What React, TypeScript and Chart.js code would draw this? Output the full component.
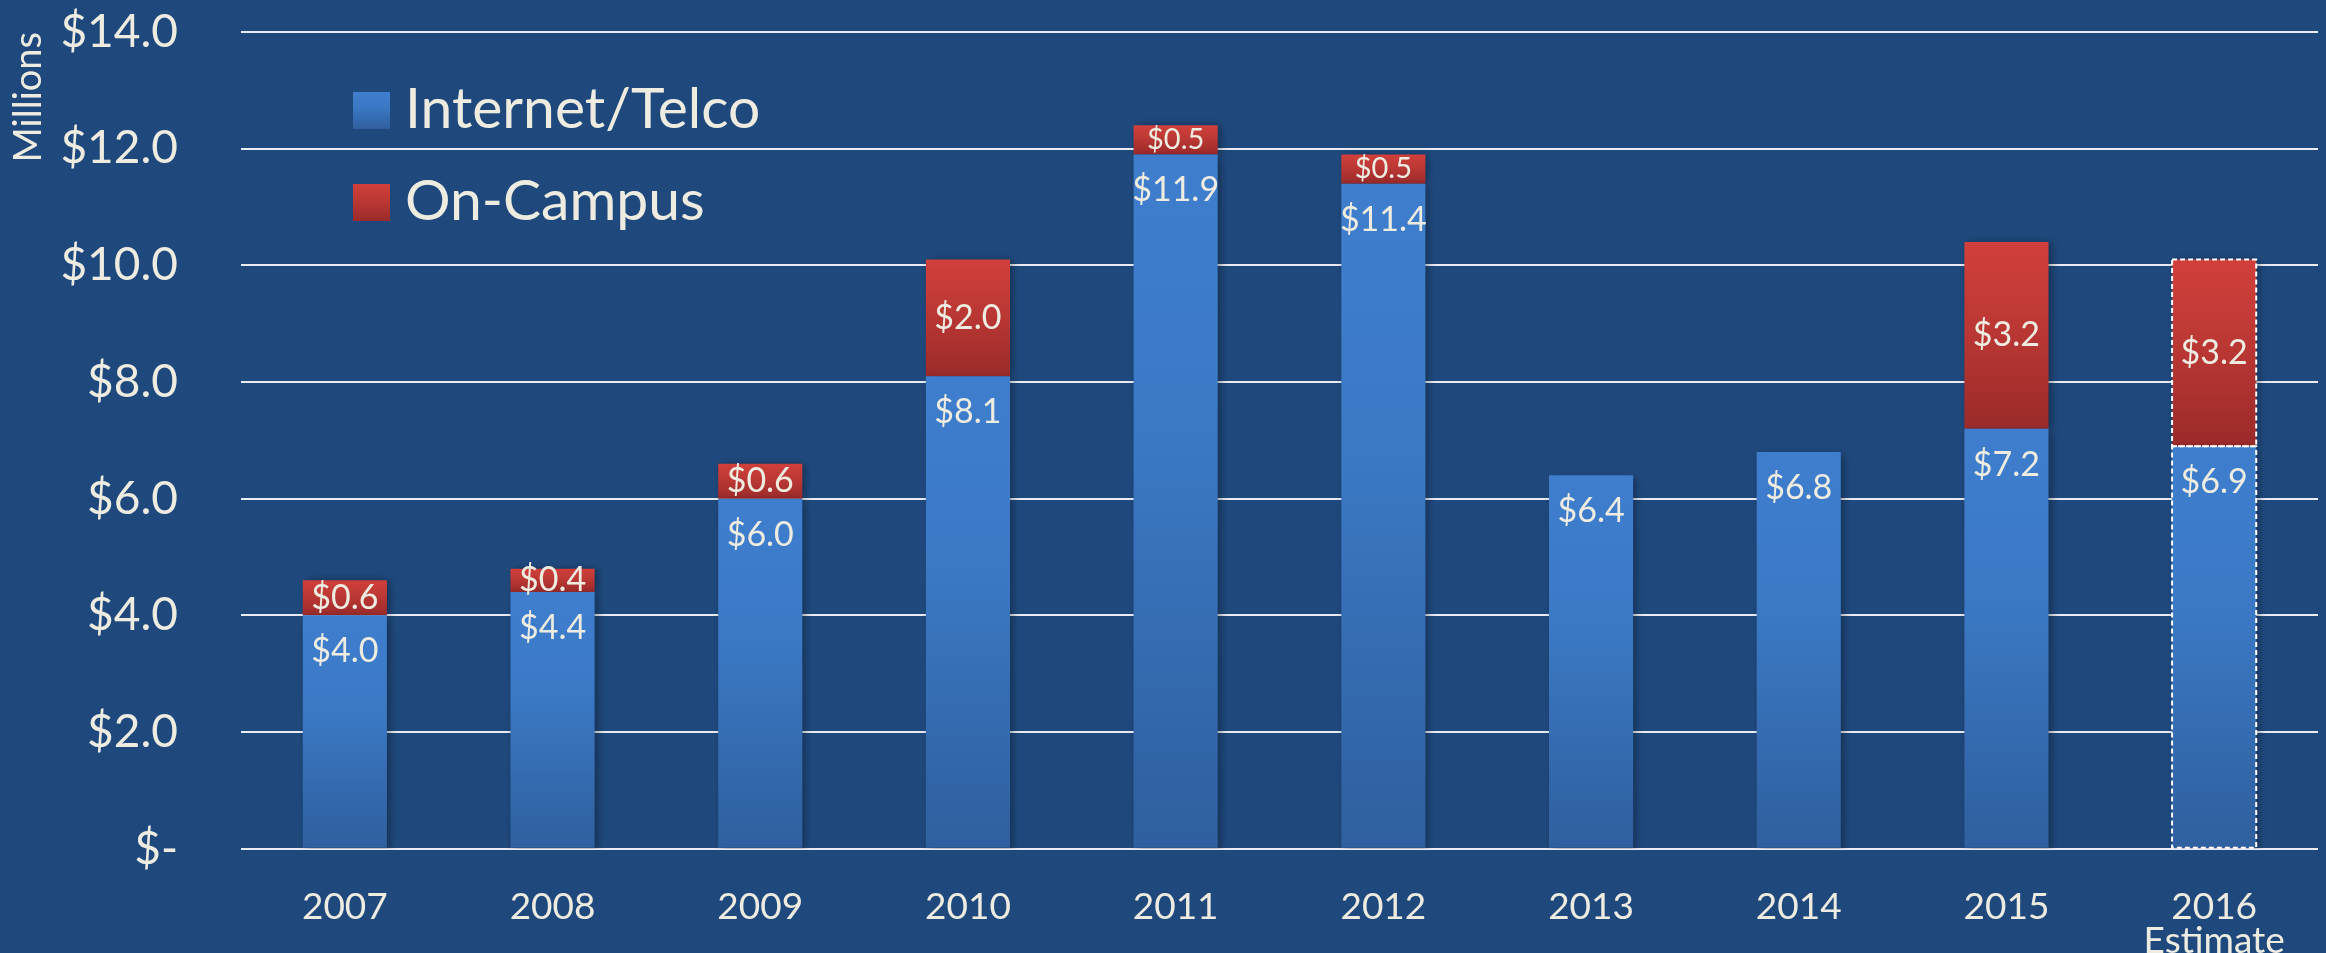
import React, { useEffect, useRef } from 'react';
import { Chart, registerables } from 'chart.js';

Chart.register(...registerables);

// ---- data ----
const years: (string | string[])[] = ['2007', '2008', '2009', '2010', '2011', '2012', '2013', '2014', '2015', ['2016', 'Estimate']];
const internetTelco = [4.0, 4.4, 6.0, 8.1, 11.9, 11.4, 6.4, 6.8, 7.2, 6.9];
const onCampus: (number | null)[] = [0.6, 0.4, 0.6, 2.0, 0.5, 0.5, null, null, 3.2, 3.2];
const seriesNames = ['Internet/Telco', 'On-Campus'];
const yMin = 0;
const yMax = 14;
const yStep = 2;
const yTitle = 'Millions';
const estimateIndex = 9;

// ---- styles ----
const BG = '#1F497D';
const TEXT = '#EEECE1';
const FONT = 'Lato, "Open Sans", sans-serif';
const BLUE = ['#3E7ECD', '#3B79C5', '#2F5F9E'];
const RED = ['#D13F3B', '#BE3935', '#9B2A2A'];
const smallLabelIdx = [4, 5];

function grad(chart: any, yTop: number, yBot: number, stops: string[]) {
  const g = chart.ctx.createLinearGradient(0, yTop, 0, yBot);
  g.addColorStop(0, stops[0]);
  g.addColorStop(0.4, stops[1]);
  g.addColorStop(1, stops[2]);
  return g;
}

function barFill(stops: string[], dsIndex: number) {
  return (c: any) => {
    const chart = c.chart;
    const ys = chart.scales && chart.scales.y;
    if (!ys || c.type !== 'data') return stops[0];
    const i = c.dataIndex;
    const start = dsIndex === 0 ? 0 : internetTelco[i];
    const v = dsIndex === 0 ? internetTelco[i] : (onCampus[i] || 0);
    const top = ys.getPixelForValue(start + v);
    const bot = ys.getPixelForValue(start);
    if (!isFinite(top) || !isFinite(bot) || top === bot) return stops[0];
    return grad(chart, top, bot, stops);
  };
}

const bgPlugin = {
  id: 'bg',
  beforeDraw(chart: any) {
    const { ctx, width, height } = chart;
    ctx.save();
    ctx.fillStyle = BG;
    ctx.fillRect(0, 0, width, height);
    ctx.restore();
  },
};

const shadowPlugin = {
  id: 'barShadow',
  beforeDatasetDraw(chart: any, args: any) {
    const ctx = chart.ctx;
    ctx.save();
    ctx.shadowColor = 'rgba(0,0,0,0.35)';
    ctx.shadowBlur = 8;
    ctx.shadowOffsetX = 3;
    ctx.shadowOffsetY = args.index === 0 ? 3 : 0;
  },
  afterDatasetDraw(chart: any) {
    chart.ctx.restore();
  },
};

const overlayPlugin = {
  id: 'overlay',
  afterDatasetsDraw(chart: any) {
    const ctx = chart.ctx;
    // dashed outline for the estimate bar
    ctx.save();
    ctx.strokeStyle = '#FFFFFF';
    ctx.lineWidth = 2;
    ctx.setLineDash([5, 3]);
    chart.data.datasets.forEach((ds: any, di: number) => {
      const el: any = chart.getDatasetMeta(di).data[estimateIndex];
      const v = ds.data[estimateIndex];
      if (!el || v == null) return;
      const p = el.getProps(['x', 'y', 'base', 'width'], true);
      ctx.strokeRect(p.x - p.width / 2, p.y, p.width, p.base - p.y);
    });
    ctx.restore();

    // value labels
    ctx.save();
    ctx.fillStyle = TEXT;
    ctx.textAlign = 'center';
    ctx.textBaseline = 'middle';
    chart.data.datasets.forEach((ds: any, di: number) => {
      const meta = chart.getDatasetMeta(di);
      meta.data.forEach((el: any, i: number) => {
        const v = ds.data[i];
        if (v == null || v === 0) return;
        const p = el.getProps(['x', 'y', 'base'], true);
        const size = di === 1 && smallLabelIdx.includes(i) ? 29 : 34;
        ctx.font = `${size}px ${FONT}`;
        const ty = di === 0 ? p.y + 36 : (p.y + p.base) / 2;
        ctx.fillText('$' + v.toFixed(1), p.x, ty);
      });
    });
    ctx.restore();
  },
};

const legendPlugin = {
  id: 'insideLegend',
  afterDraw(chart: any) {
    const ctx = chart.ctx;
    const area = chart.chartArea;
    const x0 = area.left + 112;
    const y0 = area.top + 60;
    const box = 37;
    const gap = 92;
    ctx.save();
    chart.data.datasets.forEach((ds: any, i: number) => {
      const top = y0 + i * gap;
      const stops = i === 0 ? BLUE : RED;
      ctx.fillStyle = grad(chart, top, top + box, stops);
      ctx.fillRect(x0, top, box, box);
      ctx.fillStyle = TEXT;
      ctx.font = `57px ${FONT}`;
      ctx.textAlign = 'left';
      ctx.textBaseline = 'alphabetic';
      ctx.fillText(ds.label, x0 + box + 15, top + 36);
    });
    ctx.restore();
  },
};

export default function App() {
  const ref = useRef<HTMLCanvasElement | null>(null);

  useEffect(() => {
    let chart: Chart | null = null;
    let cancelled = false;
    const build = () => {
      if (cancelled || !ref.current) return;
      chart = new Chart(ref.current, {
        type: 'bar',
        data: {
          labels: years as any,
          datasets: [
            {
              label: seriesNames[0],
              data: internetTelco,
              backgroundColor: barFill(BLUE, 0) as any,
              borderWidth: 0,
              categoryPercentage: 1,
              barPercentage: 0.405,
            },
            {
              label: seriesNames[1],
              data: onCampus as any,
              backgroundColor: barFill(RED, 1) as any,
              borderWidth: 0,
              categoryPercentage: 1,
              barPercentage: 0.405,
            },
          ],
        },
        options: {
          responsive: false,
          animation: false,
          devicePixelRatio: 1,
          layout: { padding: { left: 0, right: 8, top: 32, bottom: 0 } },
          plugins: {
            legend: { display: false },
            tooltip: { enabled: false },
          },
          scales: {
            x: {
              stacked: true,
              grid: { display: false },
              border: { display: false },
              ticks: {
                color: TEXT,
                font: { family: FONT, size: 37, lineHeight: 0.92 },
                padding: 33,
                maxRotation: 0,
                autoSkip: false,
              },
              afterFit(scale: any) {
                scale.height = 104.3;
                scale.paddingLeft = 0;
                scale.paddingRight = 0;
              },
            },
            y: {
              stacked: true,
              min: yMin,
              max: yMax,
              grid: { color: '#E9EDF3', lineWidth: 2, drawTicks: false },
              border: { display: false },
              ticks: {
                stepSize: yStep,
                color: TEXT,
                font: { family: FONT, size: 46 },
                padding: 63,
                callback: (v: any) => (Number(v) === 0 ? '$-' : '$' + Number(v).toFixed(1)),
              },
              title: {
                display: true,
                text: yTitle,
                align: 'end',
                color: TEXT,
                font: { family: FONT, size: 38 },
                padding: { top: 6, bottom: 0 },
              },
              afterFit(scale: any) {
                scale.width = 241;
                scale.paddingTop = 0;
                scale.paddingBottom = 0;
              },
            },
          },
        },
        plugins: [bgPlugin, shadowPlugin, overlayPlugin, legendPlugin],
      });
    };
    const fonts = (document as any).fonts;
    if (fonts && fonts.load) {
      Promise.all([fonts.load(`46px Lato`), fonts.load(`57px Lato`)]).then(build, build);
    } else {
      build();
    }
    return () => {
      cancelled = true;
      if (chart) chart.destroy();
    };
  }, []);

  return (
    <div style={{ position: 'fixed', left: 0, top: 0, width: 2326, height: 953, background: BG }}>
      <canvas ref={ref} width={2326} height={953} style={{ width: 2326, height: 953, display: 'block' }} />
    </div>
  );
}
